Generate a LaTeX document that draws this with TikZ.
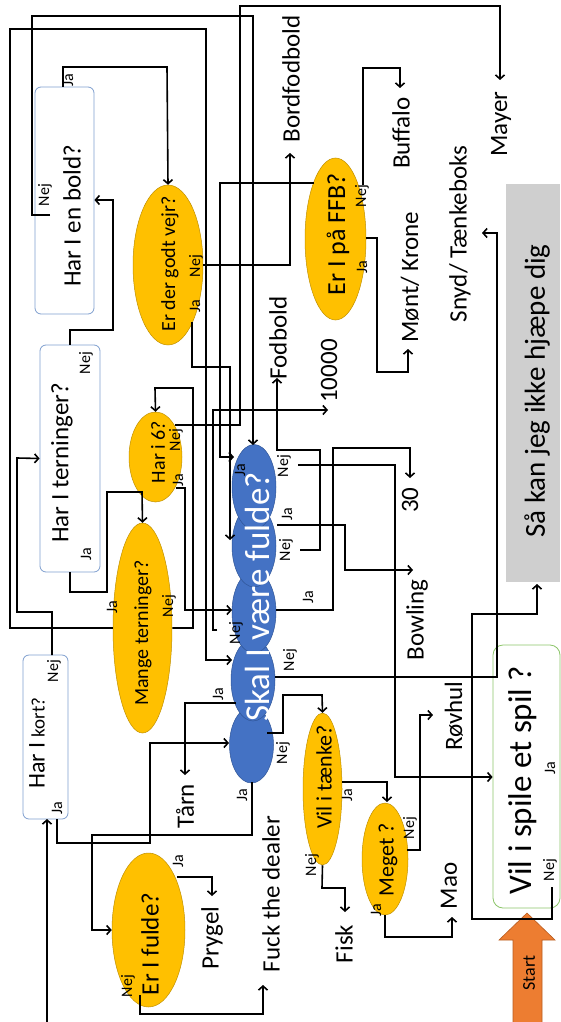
\documentclass[tikz,border=0pt]{standalone}
\usepackage{fontspec}
\setmainfont{Carlito}
\usetikzlibrary{shapes.geometric,arrows.meta}
\definecolor{bluefill}{HTML}{4472C4}
\definecolor{blueedge}{HTML}{2F5597}
\definecolor{orangefill}{HTML}{FFC000}
\definecolor{orangeedge}{HTML}{C09000}
\definecolor{boxblue}{HTML}{7F9FCF}
\definecolor{boxgreen}{HTML}{8CC56A}
\definecolor{hjgray}{HTML}{CFCFCF}
\definecolor{startfill}{HTML}{ED7D31}
\definecolor{startedge}{HTML}{B85C20}
\tikzset{
  tx/.style={rotate=90, inner sep=0pt, font=\fontsize{#1}{#1}\selectfont},
  lab/.style={rotate=90, inner sep=0pt, font=\fontsize{16}{16}\selectfont},
  qbox/.style={rectangle, draw=boxblue, line width=0.8pt, fill=white, rounded corners=6pt, inner sep=0pt},
  qell/.style={ellipse, draw=orangeedge, fill=orangefill, line width=0.5pt, inner sep=0pt},
  chainell/.style={ellipse, draw=blueedge, fill=bluefill, line width=0.5pt, inner sep=0pt, minimum width=44pt, minimum height=82pt},
  conn/.style={line width=1.6pt, -{Straight Barb[length=4pt,width=9pt]}},
}
\begin{document}
\begin{tikzpicture}[x=1pt,y=-1pt]
\useasboundingbox (0,0) rectangle (561,1022);

% label partly hidden behind its box
\node[lab] (boldja) at (68,80) {Ja};

% ---------- question boxes ----------
\node[qbox, minimum width=59pt, minimum height=227pt] (bold) at (64.5,200.5) {};
\node[qbox, minimum width=60pt, minimum height=227pt] (tern) at (70,458.5) {};
\node[qbox, minimum width=45pt, minimum height=164pt] (kort) at (45.5,737) {};
\node[rectangle, draw=boxgreen, line width=0.8pt, fill=white, rounded corners=10pt, inner sep=0pt, minimum width=67pt, minimum height=263pt] (spil) at (526.5,776.5) {};
\node[rectangle, fill=hjgray, inner sep=0pt, minimum width=54pt, minimum height=398pt] (hjaelp) at (533,383) {};

% ---------- orange ellipses ----------
\node[qell, minimum width=70pt, minimum height=160pt] (vejr) at (168,265) {};
\node[qell, minimum width=53pt, minimum height=90pt] (seks) at (155.5,457) {};
\node[qell, minimum width=59pt, minimum height=210pt] (mange) at (142.5,628) {};
\node[qell, minimum width=73pt, minimum height=154pt] (fulde) at (148.5,930) {};
\node[qell, minimum width=39pt, minimum height=152pt] (taenke) at (322.5,789) {};
\node[qell, minimum width=46pt, minimum height=112pt] (meget) at (385,859) {};
\node[qell, minimum width=61pt, minimum height=162pt] (ffb) at (335.5,239) {};

% ---------- blue chain ----------
\node[chainell, minimum height=76pt] (e5) at (251.5,745) {};
\node[chainell] (e4) at (253,680) {};
\node[chainell] (e3) at (254,612) {};
\node[chainell] (e2) at (254,546) {};
\node[chainell, minimum height=85pt] (e1) at (254,487) {};

% ---------- start arrow ----------
\draw[fill=startfill, draw=startedge, line width=0.6pt] (513,1023) -- (513,940) -- (499,940) -- (527,913) -- (555,940) -- (542,940) -- (542,1023);

% ---------- texts in shapes ----------
\node[tx=25] (boldt) at (72,216) {Har I en bold?};
\node[tx=25] (ternt) at (62,463) {Har I terninger?};
\node[rotate=90, inner sep=0pt] (kortt) at (37,743) {\fontsize{24}{24}\selectfont Har I \fontsize{19}{19}\selectfont kort?};
\node[tx=20] (vejrt) at (170,264) {Er der godt vejr?};
\node[tx=20] (sekst) at (158,452) {Har i 6?};
\node[tx=20] (manget) at (143,633) {Mange terninger?};
\node[tx=25] (fuldet) at (150,944) {Er I fulde?};
\node[tx=22] (taenket) at (324,777) {Vil i tænke?};
\node[tx=22] (megett) at (388,860) {Meget ?};
\node[tx=26] (ffbt) at (338,234) {Er I på FFB?};
\node[tx=35, text=white] (chaint) at (257,597) {Skal I være fulde?};
\node[tx=29] (hjaelpt) at (537,391) {Så kan jeg ikke hjæpe dig};
\node[tx=33] (spilt) at (523,780) {Vil i spile et spil ?};
\node[tx=18] (startt) at (529,973) {Start};

% ---------- terminal texts ----------
\node[tx=25] (bordfod) at (291,79) {Bordfodbold};
\node[tx=25] (buffalo) at (401,133) {Buffalo};
\node[tx=25] (mayer) at (501,124) {Mayer};
\node[tx=25] (moent) at (410,277) {Mønt/ Krone};
\node[tx=25] (snyd) at (460,234) {Snyd/ Tænkeboks};
\node[tx=25] (fodbold) at (278,338) {Fodbold};
\node[tx=25] (titusind) at (329,371) {10000};
\node[tx=25] (tredive) at (410,500) {30};
\node[tx=25] (bowling) at (417,620) {Bowling};
\node[tx=25] (roevhul) at (454,716) {Røvhul};
\node[tx=25] (mao) at (449,886) {Mao};
\node[tx=25] (fisk) at (344,944) {Fisk};
\node[tx=25] (taarn) at (185,806) {Tårn};
\node[tx=25] (prygel) at (212,938) {Prygel};
\node[tx=25] (fuck) at (271,894) {Fuck the dealer};

% ---------- connectors ----------
\draw[conn] (63,87) -- (63,67) -- (167,67) -- (vejr.north);
\draw[conn] (50,215) -- (32,215) -- (32,16) -- (253,16) -- (253,445);
\draw[conn] (tern.north -| 70,0) -- (70,330) -- (113,330) -- (113,200) -- (bold.east |- 0,200);
\draw[conn] (70,572) -- (70,592) -- (107,592) -- (107,492) -- (142,492) -- (mange.north);
\draw[conn] (52,655) -- (52,612) -- (17,612) -- (17,458) -- (tern.west);
\draw[conn] (57,819) -- (57,843) -- (150,843) -- (150,743) -- (229,743);
\draw[conn] (47,1022) -- (47,819);
\draw[conn] (vejr.east) -- (290,265) -- (290,153);
\draw[conn] (192,322) -- (192,367) -- (230,367) -- (230,540);
\draw[conn] (175,425) -- (240,425) -- (240,6) -- (500,6) -- (500,80);
\draw[conn] (176,488) -- (185,488) -- (185,610) -- (232,610);
\draw[conn] (mange.east) -- (193,628) -- (193,388) -- (155,388) -- (seks.north);
\draw[conn] (mange.west) -- (10,628) -- (10,29) -- (206,29) -- (206,660) -- (232,660);
\draw[conn] (314,183) -- (220,183) -- (220,457) -- (234,457);
\draw[conn] (363,185) -- (363,68) -- (400,68) -- (400,88);
\draw[conn] (366,238) -- (377,238) -- (377,372) -- (408,372) -- (408,349);
\draw[conn] (298,465) -- (395,465) -- (395,777) -- (spil.west |- 0,777);
\draw[conn] (277,525) -- (345,525) -- (345,570) -- (413,570);
\draw[conn] (300,550) -- (320,550) -- (320,450) -- (277,450) -- (277,378);
\draw[conn] (276,610) -- (333,610) -- (333,448) -- (410,448) -- (410,478);
\draw[conn] (217,630) -- (213,630) -- (213,410) -- (328,410);
\draw[conn] (275,677) -- (497,677) -- (497,233) -- (482,233);
\draw[conn] (236,703) -- (185,703) -- (185,775);
\draw[conn] (252,782) -- (252,835) -- (92,835) -- (92,930) -- (fulde.west);
\draw[conn] (267,733) -- (283,733) -- (283,695) -- (322,695) -- (taenke.north);
\draw[conn] (342,782) -- (387,782) -- (387,802);
\draw[conn] (taenke.south) -- (322,888) -- (345,888) -- (345,912);
\draw[conn] (407,850) -- (420,850) -- (420,715) -- (433,715);
\draw[conn] (meget.south) -- (385,937) -- (452,937) -- (452,917);
\draw[conn] (177,877) -- (212,877) -- (212,896);
\draw[conn] (140,995) -- (140,1014) -- (263,1014) -- (263,985);
\draw[conn] (552,887) -- (552,919) -- (472,919) -- (472,614) -- (537,614) -- (537,584);

% ---------- Ja / Nej labels ----------
\node[lab] (boldnej) at (45,195) {Nej};
\node[lab] (ternnej) at (86,363) {Nej};
\node[lab] (ternja) at (86,554) {Ja};
\node[lab] (kortnej) at (54,671) {Nej};
\node[lab] (kortja) at (57,808) {Ja};
\node[lab] (vejrnej) at (196,266) {Nej};
\node[lab] (vejrja) at (195,306) {Ja};
\node[lab] (seksnej) at (176,440) {Nej};
\node[lab] (seksja) at (178,480) {Ja};
\node[lab] (mangeja) at (112,607) {Ja};
\node[lab] (mangenej) at (169,606) {Nej};
\node[lab] (fuldeja) at (178,861) {Ja};
\node[lab] (fuldenej) at (128,986) {Nej};
\node[lab] (e1ja) at (240,470) {Ja};
\node[lab] (e1nej) at (284,466) {Nej};
\node[lab] (e2ja) at (287,514) {Ja};
\node[lab] (e2nej) at (286,550) {Nej};
\node[lab] (e3ja) at (308,597) {Ja};
\node[lab] (e3nej) at (236,633) {Nej};
\node[lab] (e4nej) at (290,660) {Nej};
\node[lab] (e4ja) at (218,694) {Ja};
\node[lab] (e5nej) at (283,753) {Nej};
\node[lab] (e5ja) at (242,795) {Ja};
\node[lab] (taenkeja) at (347,795) {Ja};
\node[lab] (taenkenej) at (312,865) {Nej};
\node[lab] (megetnej) at (410,828) {Nej};
\node[lab] (megetja) at (376,910) {Ja};
\node[lab] (ffbnej) at (362,196) {Nej};
\node[lab] (ffbja) at (362,267) {Ja};
\node[lab] (spilja) at (550,768) {Ja};
\node[lab] (spilnej) at (550,870) {Nej};
\end{tikzpicture}
\end{document}
